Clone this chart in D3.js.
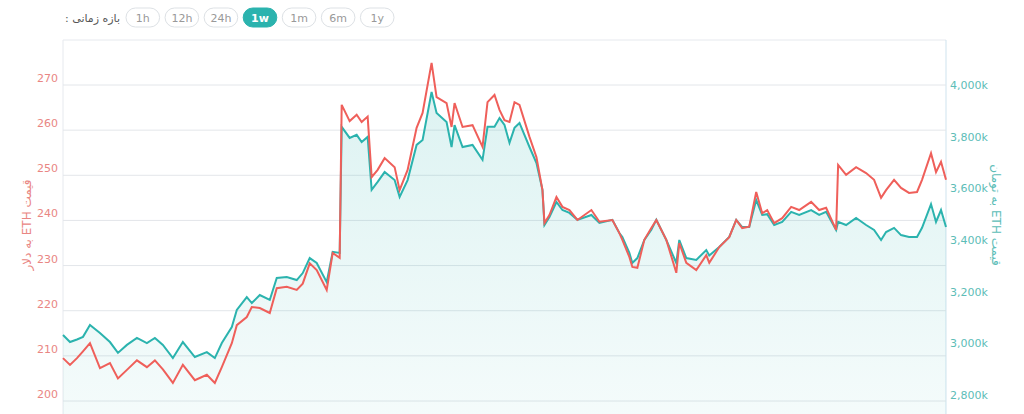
<!DOCTYPE html>
<html><head><meta charset="utf-8">
<script src="https://cdn.jsdelivr.net/npm/d3@7/dist/d3.min.js"></script>
<style>body{margin:0;background:#fff;font-family:"DejaVu Sans",sans-serif}</style>
</head><body><svg id="c" width="1024" height="414"></svg>
<script>
const periods=["1h","12h","24h","1w","1m","6m","1y"];
const activePeriod="1w";
const periodLabel="بازه زمانی :";
const leftTitle="قیمت ETH به دلار";
const rightTitle="قیمت ETH به تومان";
const usdTicks=[200,210,220,230,240,250,260,270];
const tomanTicks=[2800,3000,3200,3400,3600,3800,4000];
const timeSteps=[0,7,14,20,27,37,47,55,64,74,84,92,100,110,120,132,144,152,159,169,174,184,189,197,207,214,224,234,240,247,254,264,270,277,279,287,294,299,305,309,315,322,332,337,345,354,360,369,374,384,389,392,400,410,420,425,432,437,442,447,452,457,467,474,480,482,487,494,500,507,515,529,537,550,557,560,567,570,575,582,589,594,604,614,617,624,634,644,647,657,667,674,680,687,694,700,705,712,720,729,737,749,757,764,774,776,784,794,804,812,819,824,832,839,847,855,860,869,874,879,884];
const usd=[209.5,208,209.5,211,212.8,207.3,208.4,205,206.9,209,207.5,209,207,204,208,204.6,205.8,204,207.5,212.8,216.8,218.6,220.8,220.6,219.5,225,225.3,224.6,226,230.5,229,224.6,232.8,231.7,265.6,262,263.4,261.8,263,249.6,251.2,253.8,251.8,246.7,251.2,260.5,263.8,274.9,267.3,266,260.7,266,260.7,261.1,256.3,266.2,267.8,264.5,262.2,261.8,266.2,265.6,258.5,254,246.7,239.4,241.2,245.2,243,242.3,240.1,242.3,239.7,240.1,237.2,235.7,231.9,229.7,229.5,235.7,238.3,240.1,235.7,228.4,235,230.6,229,232.3,230.6,234.1,236.3,240.1,238.3,238.6,246.3,241.6,242.3,239.4,240.5,243,242.3,244.1,242.3,242.8,237.9,252.3,250.1,251.8,250.5,249,245,246.7,249,247.2,246.1,246.3,249,254.9,250.7,253,249];
const toman=[3032,3005,3015,3025,3071,3040,3005,2963,2994,3021,3001,3021,2994,2943,3005,2947,2966,2943,3001,3063,3129,3179,3156,3187,3168,3253,3257,3245,3272,3330,3311,3237,3354,3350,3838,3795,3807,3779,3799,3594,3625,3663,3632,3567,3632,3768,3787,3973,3892,3857,3760,3845,3760,3768,3710,3838,3838,3872,3845,3776,3834,3853,3760,3698,3594,3458,3489,3547,3516,3505,3478,3497,3466,3478,3427,3412,3350,3311,3330,3400,3440,3478,3400,3311,3400,3330,3323,3361,3340,3373,3412,3478,3450,3450,3555,3497,3500,3458,3470,3509,3497,3516,3497,3509,3439,3470,3458,3485,3458,3439,3400,3431,3447,3419,3412,3412,3447,3539,3470,3516,3450];

const RED="#ef5f5a", TEAL="#2bb3ae";
const svg=d3.select("#c");
const L=63,R=946,T=40,B=414;
const x=d3.scaleLinear().domain([0,884]).range([L,R]);
const yL=d3.scaleLinear().domain([200,270]).range([401,85]);
const yR=d3.scaleLinear().domain([2800,4000]).range([395,85]);

const defs=svg.append("defs");
const g=defs.append("linearGradient").attr("id","fill").attr("x1",0).attr("y1",0).attr("x2",0).attr("y2",1);
g.append("stop").attr("offset","0%").attr("stop-color",TEAL).attr("stop-opacity",0.16);
g.append("stop").attr("offset","100%").attr("stop-color",TEAL).attr("stop-opacity",0.05);

svg.append("line").attr("x1",L).attr("x2",R).attr("y1",T).attr("y2",T).attr("stroke","#e6e9ee");
svg.append("line").attr("x1",L).attr("x2",L).attr("y1",T).attr("y2",B).attr("stroke","#e6e9ee");
svg.append("line").attr("x1",R).attr("x2",R).attr("y1",T).attr("y2",B).attr("stroke","#cfe3ee");
svg.selectAll(".gr").data(usdTicks).join("line").attr("x1",L).attr("x2",R)
 .attr("y1",d=>yL(d)).attr("y2",d=>yL(d)).attr("stroke","#e3e6ea");

const pts=timeSteps.map((t,i)=>({t,u:usd[i],m:toman[i]}));
svg.append("path").datum(pts).attr("fill","url(#fill)")
 .attr("d",d3.area().x(d=>x(d.t)).y0(B).y1(d=>yR(d.m)));
svg.append("path").datum(pts).attr("fill","none").attr("stroke",TEAL).attr("stroke-width",2)
 .attr("d",d3.line().x(d=>x(d.t)).y(d=>yR(d.m)));
svg.append("path").datum(pts).attr("fill","none").attr("stroke",RED).attr("stroke-width",2)
 .attr("d",d3.line().x(d=>x(d.t)).y(d=>yL(d.u)));

svg.selectAll(".lt").data(usdTicks).join("text").attr("x",58).attr("y",d=>yL(d)-3)
 .attr("text-anchor","end").attr("font-size",11).attr("fill","#e98683").text(d=>d);
const fmt=d3.format(",");
svg.selectAll(".rt").data(tomanTicks).join("text").attr("x",950).attr("y",d=>yR(d)+4)
 .attr("font-size",11).attr("fill","#5dbdb7").text(d=>fmt(d)+"k");
svg.append("text").attr("transform","translate(31,225) rotate(-90)").attr("text-anchor","middle")
 .attr("direction","rtl").style("unicode-bidi","embed")
 .attr("font-size",12).attr("fill","#e98683").text(leftTitle);
svg.append("text").attr("transform","translate(992,215) rotate(90)").attr("text-anchor","middle")
 .attr("direction","rtl").style("unicode-bidi","embed")
 .attr("font-size",12).attr("fill","#5dbdb7").text(rightTitle);

svg.append("text").attr("x",120).attr("y",22).attr("text-anchor","start").attr("font-size",11)
 .attr("direction","rtl").style("unicode-bidi","embed")
 .attr("fill","#555").text(periodLabel);
const bx=d3.scaleBand().domain(periods).range([126,394]).paddingInner(0.14);
const btn=svg.selectAll(".b").data(periods).join("g").attr("transform",d=>`translate(${bx(d)},8)`);
btn.append("rect").attr("width",bx.bandwidth()).attr("height",19).attr("rx",9.5)
 .attr("fill",d=>d===activePeriod?TEAL:"#fff").attr("stroke",d=>d===activePeriod?TEAL:"#dde1e5");
btn.append("text").attr("x",bx.bandwidth()/2).attr("y",14).attr("text-anchor","middle").attr("font-size",11)
 .attr("fill",d=>d===activePeriod?"#fff":"#999").attr("font-weight",d=>d===activePeriod?"bold":"normal").text(d=>d);
</script></body></html>
